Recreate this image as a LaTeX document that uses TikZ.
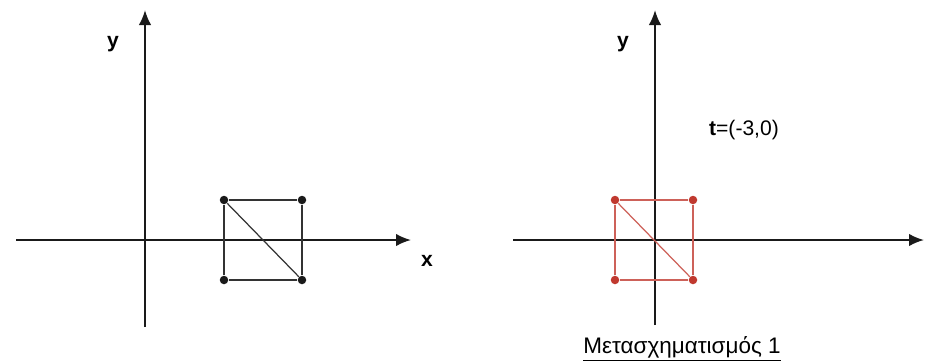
\documentclass[tikz,border=0pt]{standalone}
\usepackage{fontspec}
\setmainfont{Liberation Sans}
\usepackage{xcolor}
\usepackage{tikz}
\usetikzlibrary{arrows.meta}
\definecolor{axisblack}{HTML}{1A1A1A}
\definecolor{shapegray}{HTML}{333333}
\definecolor{shapered}{HTML}{C0392F}
\tikzset{
  axis/.style={draw=axisblack,line width=1.1pt,-{Latex[length=3mm,width=2.5mm]}},
  vertex/.style={circle,fill=axisblack,inner sep=0pt,minimum size=1.7mm},
  red vertex/.style={circle,fill=shapered,inner sep=0pt,minimum size=1.7mm},
  edge/.style={draw=shapegray,line width=0.7pt},
  red edge/.style={draw=shapered!80,line width=0.7pt},
  axis label/.style={font=\fontsize{12}{14}\selectfont\bfseries}
}

\begin{document}
\begin{tikzpicture}[x=0.02cm,y=0.02cm]
  \useasboundingbox (0,0) rectangle (927,360);
  % left picture
  \coordinate (lxs) at (16,120);
  \coordinate (lxe) at (411,120);
  \coordinate (lys) at (145,33);
  \coordinate (lye) at (145,350);
  \draw[axis] (lxs)--(lxe);
  \draw[axis] (lys)--(lye);
  \node[axis label] (ly) at (113,316) {y};
  \node[axis label] (lx) at (427,99) {x};
  \node[vertex] (a) at (224,160) {};
  \node[vertex] (b) at (302,160) {};
  \node[vertex] (c) at (302,80) {};
  \node[vertex] (d) at (224,80) {};
  \draw[edge] (a)--(b)--(c)--(d)--(a);
  \draw[edge] (a)--(c);
  % right picture
  \coordinate (rxs) at (513,120);
  \coordinate (rxe) at (924,120);
  \coordinate (rys) at (655,35);
  \coordinate (rye) at (655,350);
  \draw[axis] (rxs)--(rxe);
  \draw[axis] (rys)--(rye);
  \node[axis label] (ry) at (623,316) {y};
  \node[font=\fontsize{12}{14}\selectfont] (t) at (744,230) {\textbf{t}=(-3,0)};
  \node[red vertex] (e) at (615,160) {};
  \node[red vertex] (f) at (693,160) {};
  \node[red vertex] (g) at (693,80) {};
  \node[red vertex] (h) at (615,80) {};
  \draw[red edge] (e)--(f)--(g)--(h)--(e);
  \draw[red edge] (e)--(g);
  \node[font=\fontsize{12.8}{15}\selectfont] (cap) at (682,11) {\underline{Μετασχηματισμός 1}};
\end{tikzpicture}
\end{document}
